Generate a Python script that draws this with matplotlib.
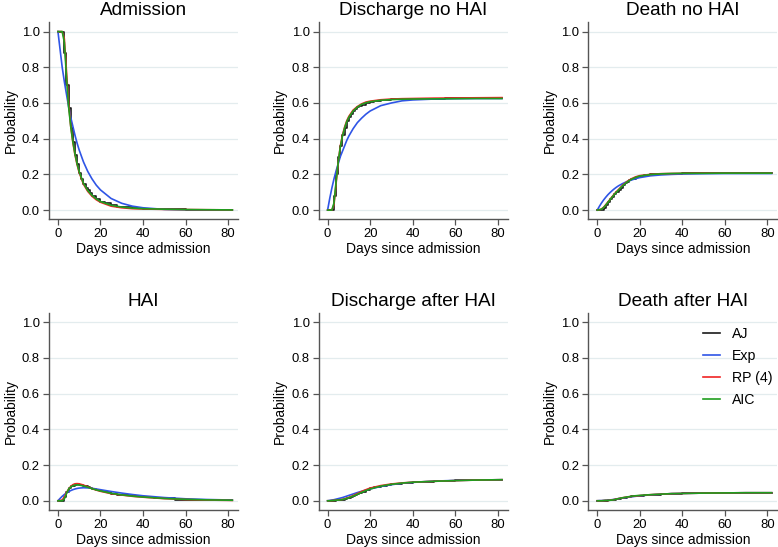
import matplotlib
matplotlib.use('Agg')
import matplotlib.pyplot as plt

plt.rcParams['font.family'] = ['Liberation Sans', 'DejaVu Sans']

# 数据：各状态转移概率
titles = ['Admission', 'Discharge no HAI', 'Death no HAI',
          'HAI', 'Discharge after HAI', 'Death after HAI']
model_names = ['AJ', 'Exp', 'RP (4)', 'AIC']

days_aj = [0, 3, 4, 5, 6, 7, 8, 9, 10, 11, 12, 13, 14, 15, 16, 18, 20, 22, 25,
           28, 30, 35, 40, 45, 50, 55, 60, 70, 82]
days_fit = [0, 1, 2, 3, 4, 5, 6, 7, 8, 9, 10, 12, 14, 16, 18, 20, 25, 30, 35,
            40, 50, 60, 70, 82]

# Admission
adm_aj = [1.0, 0.88, 0.70, 0.57, 0.46, 0.38, 0.31, 0.26, 0.21, 0.175, 0.145, 0.125,
          0.11, 0.095, 0.08, 0.06, 0.045, 0.037, 0.027, 0.02, 0.016, 0.011, 0.008,
          0.006, 0.005, 0.004, 0.003, 0.002, 0.001]
adm_exp = [1.0, 0.90, 0.80, 0.72, 0.65, 0.58, 0.52, 0.47, 0.42, 0.375, 0.336, 0.27,
           0.217, 0.175, 0.14, 0.113, 0.065, 0.038, 0.022, 0.013, 0.004, 0.0015,
           0.0005, 0.0001]
adm_rp = [1.0, 1.0, 1.0, 0.96, 0.78, 0.60, 0.47, 0.38, 0.31, 0.255, 0.21, 0.145,
          0.105, 0.078, 0.058, 0.044, 0.022, 0.013, 0.008, 0.006, 0.004, 0.003,
          0.002, 0.001]
adm_aic = [1.0, 1.0, 1.0, 0.94, 0.75, 0.58, 0.47, 0.385, 0.315, 0.26, 0.215, 0.15,
           0.11, 0.083, 0.063, 0.048, 0.027, 0.017, 0.011, 0.008, 0.005, 0.003,
           0.002, 0.001]

# Discharge no HAI
dnh_aj = [0, 0.08, 0.20, 0.30, 0.36, 0.42, 0.46, 0.50, 0.52, 0.54, 0.555, 0.565,
          0.575, 0.583, 0.59, 0.60, 0.605, 0.61, 0.615, 0.618, 0.62, 0.622, 0.623,
          0.624, 0.625, 0.626, 0.626, 0.627, 0.627]
dnh_exp = [0, 0.065, 0.123, 0.175, 0.22, 0.26, 0.30, 0.33, 0.36, 0.39, 0.415, 0.456,
           0.49, 0.515, 0.537, 0.555, 0.585, 0.60, 0.612, 0.617, 0.622, 0.624,
           0.625, 0.625]
dnh_rp = [0, 0, 0, 0.03, 0.15, 0.27, 0.36, 0.42, 0.465, 0.50, 0.525, 0.56, 0.58,
          0.595, 0.605, 0.61, 0.618, 0.622, 0.624, 0.625, 0.627, 0.628, 0.629, 0.63]
dnh_aic = [0, 0, 0, 0.04, 0.16, 0.27, 0.355, 0.415, 0.46, 0.495, 0.52, 0.555, 0.577,
           0.592, 0.601, 0.607, 0.615, 0.619, 0.621, 0.622, 0.623, 0.624, 0.625,
           0.625]

# Death no HAI
dth_aj = [0, 0.01, 0.03, 0.045, 0.06, 0.075, 0.09, 0.10, 0.115, 0.125, 0.14, 0.15,
          0.16, 0.167, 0.175, 0.185, 0.193, 0.197, 0.2, 0.202, 0.203, 0.204, 0.205,
          0.205, 0.206, 0.206, 0.206, 0.207, 0.207]
dth_exp = [0, 0.021, 0.040, 0.057, 0.072, 0.086, 0.098, 0.109, 0.119, 0.128, 0.136,
           0.149, 0.16, 0.168, 0.176, 0.182, 0.192, 0.197, 0.200, 0.202, 0.204,
           0.205, 0.205, 0.205]
dth_rp = [0, 0.002, 0.006, 0.016, 0.03, 0.045, 0.06, 0.075, 0.09, 0.103, 0.115,
          0.14, 0.16, 0.175, 0.186, 0.193, 0.2, 0.204, 0.205, 0.206, 0.207, 0.207,
          0.207, 0.207]
dth_aic = [0, 0.002, 0.005, 0.014, 0.028, 0.043, 0.058, 0.073, 0.087, 0.1, 0.112,
           0.137, 0.157, 0.172, 0.183, 0.191, 0.199, 0.203, 0.205, 0.206, 0.206,
           0.207, 0.207, 0.207]

# HAI
hai_aj = [0, 0.02, 0.05, 0.07, 0.08, 0.085, 0.09, 0.092, 0.09, 0.088, 0.085, 0.08,
          0.075, 0.072, 0.068, 0.06, 0.055, 0.05, 0.04, 0.035, 0.032, 0.025, 0.02,
          0.016, 0.013, 0.007, 0.005, 0.003, 0.002]
hai_exp = [0, 0.013, 0.025, 0.035, 0.044, 0.051, 0.057, 0.062, 0.066, 0.069, 0.071,
           0.073, 0.072, 0.07, 0.066, 0.062, 0.052, 0.043, 0.035, 0.028, 0.018,
           0.011, 0.007, 0.004]
hai_rp = [0, 0.001, 0.005, 0.02, 0.045, 0.065, 0.08, 0.09, 0.095, 0.096, 0.095,
          0.088, 0.078, 0.068, 0.06, 0.053, 0.04, 0.032, 0.025, 0.02, 0.012, 0.007,
          0.004, 0.002]
hai_aic = [0, 0, 0, 0.01, 0.04, 0.065, 0.077, 0.084, 0.088, 0.089, 0.088, 0.083,
           0.076, 0.068, 0.061, 0.055, 0.042, 0.033, 0.026, 0.021, 0.013, 0.008,
           0.005, 0.003]

# Discharge after HAI
dah_aj = [0, 0.0, 0.002, 0.003, 0.005, 0.007, 0.01, 0.013, 0.018, 0.022, 0.027,
          0.032, 0.038, 0.043, 0.048, 0.058, 0.07, 0.076, 0.083, 0.09, 0.094, 0.1,
          0.104, 0.107, 0.11, 0.112, 0.114, 0.116, 0.118]
dah_exp = [0, 0.002, 0.004, 0.006, 0.009, 0.012, 0.015, 0.018, 0.022, 0.026, 0.03,
           0.038, 0.046, 0.053, 0.06, 0.066, 0.08, 0.09, 0.098, 0.103, 0.11, 0.114,
           0.116, 0.118]
dah_rp = [0, 0, 0.001, 0.002, 0.003, 0.004, 0.006, 0.008, 0.011, 0.015, 0.019,
          0.029, 0.04, 0.052, 0.062, 0.071, 0.085, 0.094, 0.1, 0.104, 0.109, 0.113,
          0.116, 0.118]
dah_aic = [0, 0, 0.001, 0.002, 0.003, 0.004, 0.005, 0.007, 0.01, 0.013, 0.017,
           0.026, 0.036, 0.047, 0.057, 0.066, 0.082, 0.092, 0.099, 0.104, 0.109,
           0.113, 0.116, 0.118]

# Death after HAI
dthah_aj = [0, 0, 0.001, 0.002, 0.003, 0.004, 0.006, 0.008, 0.011, 0.013, 0.016,
            0.018, 0.02, 0.022, 0.024, 0.027, 0.029, 0.031, 0.033, 0.035, 0.037,
            0.039, 0.041, 0.042, 0.043, 0.044, 0.044, 0.045, 0.045]
dthah_exp = [0, 0.001, 0.001, 0.002, 0.003, 0.004, 0.005, 0.006, 0.008, 0.01, 0.012,
             0.016, 0.019, 0.022, 0.025, 0.028, 0.033, 0.037, 0.04, 0.041, 0.043,
             0.044, 0.045, 0.045]
dthah_rp = [0, 0, 0, 0.001, 0.002, 0.002, 0.003, 0.005, 0.007, 0.01, 0.012, 0.017,
            0.021, 0.024, 0.027, 0.029, 0.034, 0.037, 0.04, 0.041, 0.043, 0.044,
            0.045, 0.045]
dthah_aic = [0, 0, 0, 0.001, 0.002, 0.002, 0.003, 0.004, 0.006, 0.009, 0.012, 0.017,
             0.021, 0.025, 0.028, 0.03, 0.034, 0.037, 0.04, 0.041, 0.043, 0.044,
             0.045, 0.045]

aj_curves = [adm_aj, dnh_aj, dth_aj, hai_aj, dah_aj, dthah_aj]
exp_curves = [adm_exp, dnh_exp, dth_exp, hai_exp, dah_exp, dthah_exp]
rp_curves = [adm_rp, dnh_rp, dth_rp, hai_rp, dah_rp, dthah_rp]
aic_curves = [adm_aic, dnh_aic, dth_aic, hai_aic, dah_aic, dthah_aic]

colors = ['#1a1a1a', '#2f55e6', '#f02424', '#1f9e1f']

fig = plt.figure(figsize=(7.78, 5.47), dpi=100)
lefts = [0.063, 0.4096, 0.7562]
bottoms = [0.5996, 0.0682]
w, h = 0.243, 0.360

for k in range(6):
    r, c = divmod(k, 3)
    ax = fig.add_axes([lefts[c], bottoms[r], w, h])
    for y in [0, 0.2, 0.4, 0.6, 0.8, 1.0]:
        ax.axhline(y, color='#e3ecee', lw=0.9, zorder=0)
    ax.plot(days_aj, aj_curves[k], drawstyle='steps-post', color=colors[0], lw=1.2, label=model_names[0])
    ax.plot(days_fit, exp_curves[k], color=colors[1], lw=1.2, label=model_names[1])
    ax.plot(days_fit, rp_curves[k], color=colors[2], lw=1.2, label=model_names[2])
    ax.plot(days_fit, aic_curves[k], color=colors[3], lw=1.2, label=model_names[3])

    ax.set_xlim(-4.2, 84.7)
    ax.set_ylim(-0.05, 1.053)
    ax.set_xticks([0, 20, 40, 60, 80])
    ax.set_yticks([0, 0.2, 0.4, 0.6, 0.8, 1.0])
    ax.set_yticklabels(['0.0', '0.2', '0.4', '0.6', '0.8', '1.0'])
    for s in ['top', 'right']:
        ax.spines[s].set_visible(False)
    for s in ['left', 'bottom']:
        ax.spines[s].set_color('#555555')
        ax.spines[s].set_linewidth(1.0)
    ax.tick_params(colors='#555555', labelcolor='black', labelsize=9.4, length=4, width=0.9, pad=2.5)
    ax.set_title(titles[k], fontsize=13.7, pad=5)
    ax.set_xlabel('Days since admission', fontsize=10, labelpad=1.5)
    ax.set_ylabel('Probability', fontsize=10, labelpad=3)

    if k == 5:
        ax.legend(loc='upper left', bbox_to_anchor=(0.54, 0.995), frameon=False,
                  fontsize=10.2, handlelength=1.2, handletextpad=0.85, labelspacing=0.58)

fig.savefig('out.png', dpi=100)
